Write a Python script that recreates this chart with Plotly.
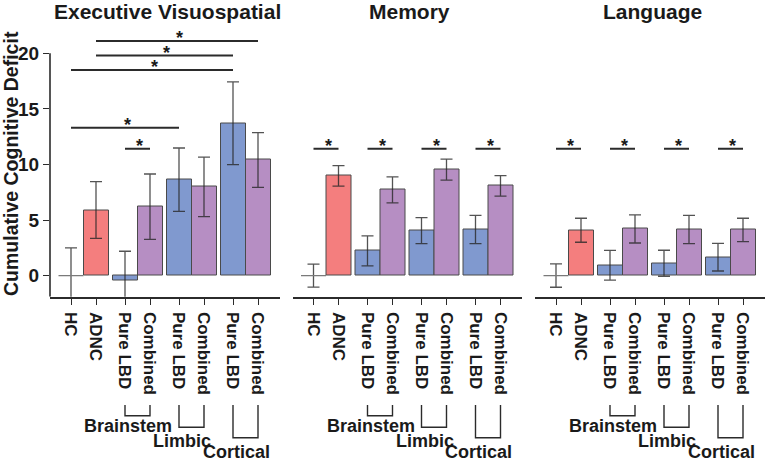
import plotly.graph_objects as go

W, H = 765, 462

panel_titles = ["Executive Visuospatial", "Memory", "Language"]
categories = ["HC", "ADNC", "Pure LBD", "Combined", "Pure LBD", "Combined", "Pure LBD", "Combined"]
regions = ["Brainstem", "Limbic", "Cortical"]

exec_mean = [0.0, 5.9, -0.48, 6.2, 8.63, 7.98, 13.7, 10.4]
exec_err = [2.5, 2.55, 2.67, 2.94, 2.85, 2.67, 3.72, 2.47]
memory_mean = [0.0, 8.97, 2.22, 7.71, 4.05, 9.53, 4.14, 8.07]
memory_err = [1.03, 0.93, 1.35, 1.17, 1.17, 0.95, 1.27, 0.92]
language_mean = [0.0, 4.08, 0.93, 4.2, 1.11, 4.14, 1.65, 4.11]
language_err = [1.05, 1.08, 1.33, 1.27, 1.17, 1.27, 1.24, 1.05]

y_ticks = [0, 5, 10, 15, 20]

# significance brackets: (category index a, category index b, height)
exec_sig = [(1, 7, 21.1), (1, 6, 19.8), (0, 6, 18.5), (0, 4, 13.3), (2, 3, 11.4)]
memory_sig = [(0, 1, 11.4), (2, 3, 11.4), (4, 5, 11.4), (6, 7, 11.4)]
language_sig = [(0, 1, 11.4), (2, 3, 11.4), (4, 5, 11.4), (6, 7, 11.4)]

means = [exec_mean, memory_mean, language_mean]
errs = [exec_err, memory_err, language_err]
sigs = [exec_sig, memory_sig, language_sig]

# ---- styling / layout ----
FONT = "Liberation Sans, Arial, sans-serif"
C_ADNC = "#F47E7E"
C_PURE = "#8099CF"
C_COMB = "#B68EC3"
C_LINE = "#2b2b2b"

group_of = [0, 0, 1, 1, 2, 2, 3, 3]
within = [0, 1, 0, 1, 0, 1, 0, 1]
pos = [g * 2.16 + k for g, k in zip(group_of, within)]
colors = ["rgba(0,0,0,0)", C_ADNC, C_PURE, C_COMB, C_PURE, C_COMB, C_PURE, C_COMB]
line_w = [0, 1, 1, 1, 1, 1, 1, 1]

x_dom_px = [(50, 279.5), (292.5, 522), (535, 764.5)]
y_top_px, y_bot_px = 25.5, 296.7
y_range = [-1.9, 22.5]
x_range = [-0.84, 8.34]

def px_x(p):
    return p / W

def px_y(p):
    return 1 - p / H

fig = go.Figure()
shapes = []
annotations = []

for i in range(3):
    xa = "x" if i == 0 else f"x{i+1}"
    ya = "y" if i == 0 else f"y{i+1}"
    fig.add_trace(go.Bar(
        x=pos, y=means[i], width=1.0,
        marker=dict(color=colors, line=dict(color="#4a4a4a", width=line_w)),
        error_y=dict(type="data", array=errs[i], visible=True,
                     color="rgba(40,40,40,0.8)", thickness=1.3, width=6),
        xaxis=xa, yaxis=ya, showlegend=False, hoverinfo="skip",
    ))
    # HC reference line at its (zero) mean
    fig.add_trace(go.Scatter(
        x=[pos[0] - 0.5, pos[0] + 0.5], y=[means[i][0], means[i][0]],
        mode="lines", line=dict(color="#7a7a7a", width=1.3),
        xaxis=xa, yaxis=ya, showlegend=False, hoverinfo="skip",
    ))
    xkey = "xaxis" if i == 0 else f"xaxis{i+1}"
    ykey = "yaxis" if i == 0 else f"yaxis{i+1}"
    d0, d1 = x_dom_px[i]
    fig.update_layout(**{
        xkey: dict(domain=[px_x(d0), px_x(d1)], range=x_range, anchor=ya,
                   automargin=False,
                   showline=True, linecolor=C_LINE, linewidth=1.6,
                   ticks="outside", ticklen=6, tickwidth=1.2, tickcolor=C_LINE,
                   tickvals=pos, ticktext=categories, tickangle=90,
                   ticklabelstandoff=4,
                   tickfont=dict(family=FONT, size=17, color="#1a1a1a", weight="bold"),
                   showgrid=False, zeroline=False, fixedrange=True),
        ykey: dict(domain=[px_y(y_bot_px), px_y(y_top_px)], range=y_range, anchor=xa,
                   automargin=False,
                   showline=False, showgrid=False, zeroline=False,
                   tickvals=y_ticks if i == 0 else [],
                   ticks="outside" if i == 0 else "", ticklen=6, tickwidth=1.2,
                   tickcolor=C_LINE, showticklabels=(i == 0),
                   tickfont=dict(family=FONT, size=19, color="#1a1a1a", weight="bold"),
                   fixedrange=True),
    })
    xdom = f"{xa} domain"
    if i == 0:
        shapes.append(dict(type="line", xref=xdom, yref=ya, x0=0, x1=0,
                           y0=y_range[0], y1=y_ticks[-1],
                           line=dict(color=C_LINE, width=1.6)))
    # significance lines & stars
    for a, b, lvl in sigs[i]:
        shapes.append(dict(type="line", xref=xa, yref=ya, x0=pos[a], x1=pos[b],
                           y0=lvl, y1=lvl, line=dict(color=C_LINE, width=2)))
        annotations.append(dict(x=(pos[a] + pos[b]) / 2 + 0.08, y=lvl, xref=xa, yref=ya,
                                text="*", showarrow=False, yanchor="bottom", yshift=-9,
                                font=dict(family=FONT, size=18, color="#1a1a1a", weight="bold")))
    # region brackets
    bracket_bottoms = [415.7, 427.3, 437.7]
    label_y = [426, 441, 451.5]
    for r in range(3):
        ia, ib = 2 + 2 * r, 3 + 2 * r
        shapes.append(dict(type="path", xref=xa, yref="paper",
                           path=f"M {pos[ia]},{px_y(405)} L {pos[ia]},{px_y(bracket_bottoms[r])} "
                                f"L {pos[ib]},{px_y(bracket_bottoms[r])} L {pos[ib]},{px_y(405)}",
                           line=dict(color=C_LINE, width=1.4)))
        annotations.append(dict(x=pos[ia] + 0.12, y=px_y(label_y[r]), xref=xa, yref="paper",
                                text=regions[r], showarrow=False, xanchor="center",
                                yanchor="middle",
                                font=dict(family=FONT, size=18, color="#1a1a1a", weight="bold")))
    # panel title
    annotations.append(dict(x=(pos[0] + pos[-1]) / 2 + 0.1, y=px_y(11), xref=xa, yref="paper",
                            text=panel_titles[i], showarrow=False, yanchor="middle",
                            font=dict(family=FONT, size=21, color="#1a1a1a", weight="bold")))

annotations.append(dict(x=px_x(11), y=px_y(164), xref="paper", yref="paper",
                        text="Cumulative Cognitive Deficit", textangle=-90, showarrow=False,
                        xanchor="center", yanchor="middle",
                        font=dict(family=FONT, size=19.5, color="#1a1a1a", weight="bold")))

fig.update_layout(
    width=W, height=H,
    margin=dict(l=0, r=0, t=0, b=0),
    paper_bgcolor="white", plot_bgcolor="white",
    bargap=0, showlegend=False,
    shapes=shapes, annotations=annotations,
)

fig.write_html("out.html", config={"displayModeBar": False},
               post_script="document.body.style.margin='0';document.body.style.padding='0';")
